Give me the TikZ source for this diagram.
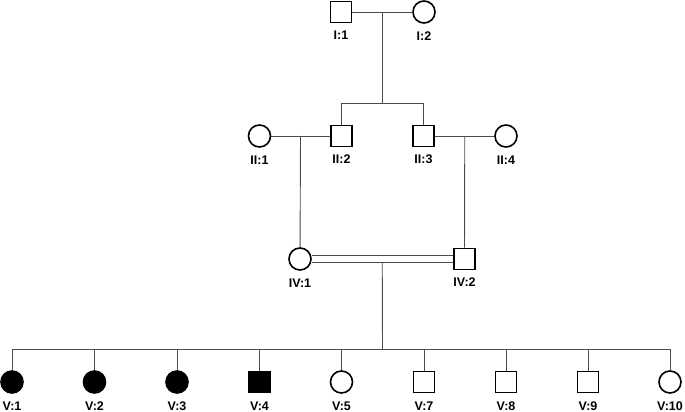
\documentclass[tikz,border=0pt]{standalone}
\usepackage{fontspec}
\setmainfont{Liberation Sans}
\usepackage{tikz}
\usetikzlibrary{positioning, calc}

\begin{document}
\begin{tikzpicture}[
            x=1pt, y=-1pt,
            male/.style = {rectangle, draw, line width=1.6pt, minimum size=21pt, inner sep=0pt},
            female/.style = {circle, draw, line width=1.6pt, minimum size=22pt, inner sep=0pt},
            affected/.style = {fill=black},
            lbl/.style = {font=\bfseries\fontsize{12.5}{14}\selectfont, inner sep=0pt},
            conn/.style = {draw=black!70, line width=0.9pt},
        ]
            \useasboundingbox (0,0) rectangle (685,412);

            % Generation I
            \node[male] (i1) at (341,12) {};
            \node[female] (i2) at (424,12) {};

            % Generation II
            \node[female] (ii1) at (259.5,136) {};
            \node[male] (ii2) at (341.5,136) {};
            \node[male] (ii3) at (423.5,136) {};
            \node[female] (ii4) at (506,136) {};

            % Generation IV
            \node[female] (iv1) at (300,259) {};
            \node[male] (iv2) at (464.5,259) {};

            % Generation V
            \node[female, affected] (v1) at (12,382) {};
            \node[female, affected] (v2) at (94.5,382) {};
            \node[female, affected] (v3) at (177,382) {};
            \node[male, affected] (v4) at (259.5,382) {};
            \node[female] (v5) at (341.5,382) {};
            \node[male] (v7) at (424,382) {};
            \node[male] (v8) at (506,382) {};
            \node[male] (v9) at (588,382) {};
            \node[female] (v10) at (670,382) {};

            % Labels
            \node[lbl, below=7.5pt of i1] (i1l) {I:1};
            \node[lbl, below=7.5pt of i2] (i2l) {I:2};
            \node[lbl, below=7.5pt of ii1] (ii1l) {II:1};
            \node[lbl, below=7.5pt of ii2] (ii2l) {II:2};
            \node[lbl, below=7.5pt of ii3] (ii3l) {II:3};
            \node[lbl, below=7.5pt of ii4] (ii4l) {II:4};
            \node[lbl, below=7.5pt of iv1] (iv1l) {IV:1};
            \node[lbl, below=7.5pt of iv2] (iv2l) {IV:2};
            \foreach \c/\t in {v1/V:1, v2/V:2, v3/V:3, v4/V:4, v5/V:5, v7/V:7, v8/V:8, v9/V:9, v10/V:10}
                \node[lbl, below=8pt of \c] (\c l) {\t};

            % Couple I and their children
            \coordinate (mI) at ($(i1)!0.5!(i2)$);
            \coordinate (sibII) at (382.5,103);
            \draw[conn] (i1) -- (i2);
            \draw[conn] (mI) -- (sibII);
            \draw[conn] (ii2 |- sibII) -- (ii3 |- sibII);
            \draw[conn] (ii2 |- sibII) -- (ii2);
            \draw[conn] (ii3 |- sibII) -- (ii3);

            % Couples II
            \coordinate (mII1) at ($(ii1)!0.5!(ii2)$);
            \coordinate (mII2) at ($(ii3)!0.5!(ii4)$);
            \draw[conn] (ii1) -- (ii2);
            \draw[conn] (ii3) -- (ii4);
            \draw[conn] (mII1) -- (iv1);
            \draw[conn] (mII2) -- (iv2);

            % Consanguineous couple (double line) and sibship V
            \coordinate (mIV) at ($(iv1)!0.5!(iv2)$);
            \coordinate (sibV) at (382.5,349);
            \draw[conn] ([yshift=3.2pt]iv1.east) -- ([yshift=3.2pt]iv2.west);
            \draw[conn] ([yshift=-3.2pt]iv1.east) -- ([yshift=-3.2pt]iv2.west);
            \draw[conn] ([yshift=-3.2pt]mIV) -- (sibV);
            \draw[conn] (v1 |- sibV) -- (v10 |- sibV);
            \foreach \c in {v1,v2,v3,v4,v5,v7,v8,v9,v10}
                \draw[conn] (\c |- sibV) -- (\c);

        \end{tikzpicture}
\end{document}
